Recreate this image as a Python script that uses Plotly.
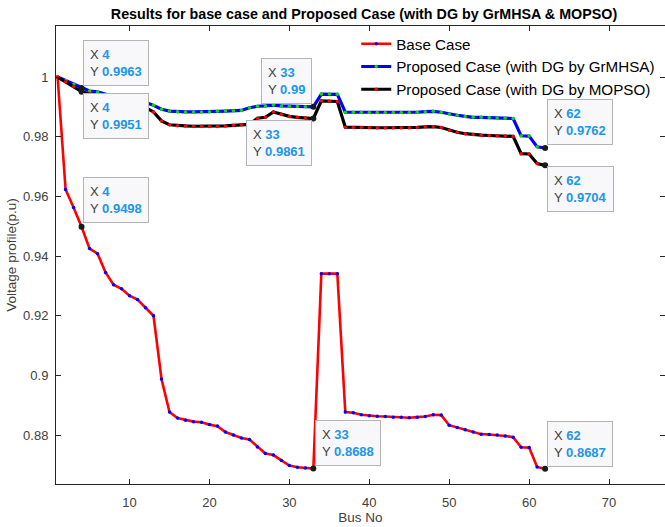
import plotly.graph_objects as go

bus = list(range(1, 63))

base_case = [
    1.0000, 0.9623, 0.9563, 0.9498, 0.9425, 0.9408, 0.9345, 0.9304, 0.9290, 0.9267,
    0.9254, 0.9227, 0.9200, 0.8988, 0.8877, 0.8857, 0.8850, 0.8845, 0.8843, 0.8835,
    0.8830, 0.8810, 0.8800, 0.8790, 0.8785, 0.8760, 0.8738, 0.8733, 0.8715, 0.8698,
    0.8692, 0.8690, 0.8688, 0.9341, 0.9341, 0.9341, 0.8877, 0.8875, 0.8868, 0.8865,
    0.8863, 0.8862, 0.8860, 0.8860, 0.8858, 0.8860, 0.8862, 0.8868, 0.8867, 0.8833,
    0.8825, 0.8818, 0.8810, 0.8803, 0.8802, 0.8800, 0.8797, 0.8793, 0.8759, 0.8758,
    0.8693, 0.8687,
]

grmhsa = [
    1.0000, 0.9988, 0.9976, 0.9963, 0.9953, 0.9950, 0.9942, 0.9935, 0.9932, 0.9927,
    0.9922, 0.9915, 0.9905, 0.9892, 0.9886, 0.9884, 0.9883, 0.9883, 0.9883, 0.9884,
    0.9885, 0.9886, 0.9887, 0.9888, 0.9897, 0.9902, 0.9903, 0.9906, 0.9903, 0.9902,
    0.9901, 0.9900, 0.9900, 0.9943, 0.9943, 0.9942, 0.9882, 0.9882, 0.9882, 0.9881,
    0.9881, 0.9881, 0.9881, 0.9881, 0.9881, 0.9882, 0.9884, 0.9885, 0.9882, 0.9876,
    0.9872, 0.9868, 0.9865, 0.9865, 0.9864, 0.9863, 0.9862, 0.9861, 0.9803, 0.9802,
    0.9766, 0.9762,
]

mopso = [
    1.0000, 0.9984, 0.9968, 0.9951, 0.9943, 0.9940, 0.9930, 0.9922, 0.9920, 0.9912,
    0.9907, 0.9898, 0.9883, 0.9853, 0.9840, 0.9837, 0.9836, 0.9835, 0.9835, 0.9834,
    0.9834, 0.9836, 0.9838, 0.9840, 0.9841, 0.9862, 0.9865, 0.9883, 0.9875, 0.9868,
    0.9865, 0.9863, 0.9861, 0.9920, 0.9920, 0.9918, 0.9832, 0.9831, 0.9831, 0.9831,
    0.9830, 0.9830, 0.9830, 0.9830, 0.9830, 0.9831, 0.9833, 0.9834, 0.9831, 0.9822,
    0.9815, 0.9810, 0.9807, 0.9805, 0.9804, 0.9803, 0.9802, 0.9801, 0.9743, 0.9742,
    0.9710, 0.9704,
]

series_names = ["Base Case", "Proposed Case (with DG by GrMHSA)", "Proposed Case (with DG by MOPSO)"]
tip_buses = [4, 33, 62]
x_ticks = [10, 20, 30, 40, 50, 60, 70]
y_ticks = [0.88, 0.90, 0.92, 0.94, 0.96, 0.98, 1.00]
y_tick_labels = ["0.88", "0.9", "0.92", "0.94", "0.96", "0.98", "1"]

fig = go.Figure()

styles = [
    dict(line=dict(color="#ff0000", width=2.6), marker=dict(color="#0000ff", size=3.5)),
    dict(line=dict(color="#0000ff", width=3.2), marker=dict(color="#00e000", size=3.5)),
    dict(line=dict(color="#000000", width=3.2), marker=dict(color="#ff0000", size=3.5)),
]
all_series = [base_case, grmhsa, mopso]
for name, ys, st in zip(series_names, all_series, styles):
    fig.add_trace(go.Scatter(
        x=bus, y=ys, mode="lines+markers", name=name,
        line=st["line"], marker=st["marker"], hoverinfo="skip",
    ))

# datatip points
tx, ty = [], []
for ys in all_series:
    for b in tip_buses:
        tx.append(b)
        ty.append(ys[b - 1])
fig.add_trace(go.Scatter(
    x=tx, y=ty, mode="markers", showlegend=False, hoverinfo="skip",
    marker=dict(color="#1a1a1a", size=6),
))

# datatip placement: (series index, bus, xanchor, yanchor, xshift, yshift)
tip_layout = [
    (1, 4, "left", "bottom", 1, 2),
    (2, 4, "left", "top", 1, -1),
    (0, 4, "left", "bottom", 1, 4),
    (1, 33, "right", "bottom", -1, 3),
    (2, 33, "right", "top", -1, -1),
    (0, 33, "left", "bottom", 2, 2),
    (1, 62, "left", "bottom", 2, 3),
    (2, 62, "left", "top", 2, -1),
    (0, 62, "left", "bottom", 2, 2),
]
val_color = "#2196e8"
for si, b, xa, ya, xs, ys_ in tip_layout:
    v = all_series[si][b - 1]
    vs = f"{v:.4f}".rstrip("0").rstrip(".")
    txt = (f"X <span style='color:{val_color}'><b>{b}</b></span><br>"
           f"Y <span style='color:{val_color}'><b>{vs}</b></span>")
    fig.add_annotation(
        x=b, y=v, xref="x", yref="y", text=txt, showarrow=False,
        xanchor=xa, yanchor=ya, xshift=xs, yshift=ys_, align="left",
        bgcolor="#f8f8fa", bordercolor="#b4b4b4", borderwidth=1, borderpad=6,
        font=dict(family="Arial, Liberation Sans, sans-serif", size=13, color="#404040"),
    )

axis_color = "#262626"
fig.update_layout(
    width=665, height=527,
    margin=dict(l=56, r=0, t=26, b=43),
    paper_bgcolor="white", plot_bgcolor="white",
    font=dict(family="Arial, Liberation Sans, sans-serif", size=12, color="#404040"),
    title=dict(
        text="<b>Results for base case and Proposed Case (with DG by GrMHSA & MOPSO)</b>",
        x=364 / 665, xanchor="center", y=0.974, yanchor="middle",
        font=dict(size=14.3, color="#000000"),
    ),
    showlegend=True,
    legend=dict(
        x=0.493, y=0.997, xanchor="left", yanchor="top",
        bgcolor="rgba(255,255,255,0)", borderwidth=0,
        font=dict(size=15.2, color="#000000"),
        tracegroupgap=0,
    ),
    xaxis=dict(
        range=[0.8, 77], tickvals=x_ticks, ticks="inside", ticklen=5,
        showline=True, linecolor=axis_color, linewidth=1, mirror="ticks",
        showgrid=False, zeroline=False, tickcolor=axis_color,
        tickfont=dict(size=13, color="#404040"), ticklabelstandoff=6,
        title=dict(text="Bus No", font=dict(size=13.5, color="#404040"), standoff=3),
    ),
    yaxis=dict(
        range=[0.8636, 1.0171], tickvals=y_ticks, ticktext=y_tick_labels,
        ticks="inside", ticklen=5,
        showline=True, linecolor=axis_color, linewidth=1, mirror="ticks",
        showgrid=False, zeroline=False, tickcolor=axis_color,
        tickfont=dict(size=13, color="#404040"), ticklabelstandoff=4,
        title=dict(text="Voltage profile(p.u)", font=dict(size=13.5, color="#404040"), standoff=3),
    ),
)

fig.write_html("out.html")
